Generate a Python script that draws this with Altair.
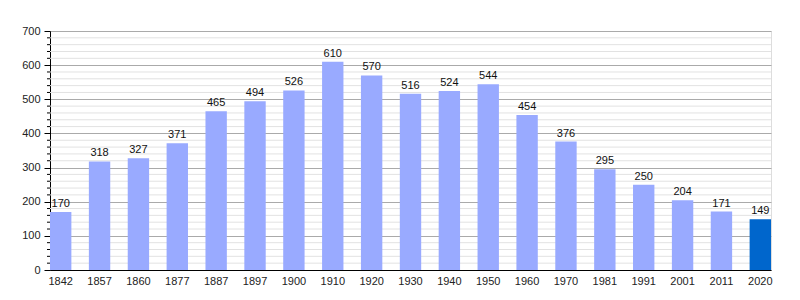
import altair as alt
import pandas as pd

years = ["1842", "1857", "1860", "1877", "1887", "1897", "1900", "1910", "1920", "1930",
         "1940", "1950", "1960", "1970", "1981", "1991", "2001", "2011", "2020"]
population = [170, 318, 327, 371, 465, 494, 526, 610, 570, 516,
              524, 544, 454, 376, 295, 250, 204, 171, 149]
highlight_year = "2020"
major_ticks = [0, 100, 200, 300, 400, 500, 600, 700]
minor_ticks = [v for v in range(20, 700, 20) if v % 100 != 0]

df = pd.DataFrame({"year": years, "pop": population})
minor_df = pd.DataFrame({"v": minor_ticks})

yscale = alt.Scale(domain=[0, 700], nice=False)
yaxis = alt.Axis(values=major_ticks, grid=True, gridColor="#aaaaaa",
                 tickSize=6, tickColor="#000", domainColor="#000",
                 labelFontSize=11, labelColor="#222",
                 labelPadding=4, labelFont="Liberation Sans")

x = alt.X("year:O", sort=years, title=None,
          scale=alt.Scale(paddingInner=0.45, paddingOuter=0),
          axis=alt.Axis(labelAngle=0, ticks=False, domainColor="#000", labelFontSize=11,
                        labelColor="#222", labelPadding=5, labelFont="Liberation Sans"))

minor_grid = alt.Chart(minor_df).mark_rule(color="#e2e2e2", strokeWidth=1).encode(
    y=alt.Y("v:Q", scale=yscale, axis=yaxis, title=None), x=alt.value(0), x2=alt.value(721)
)
minor_tick = alt.Chart(minor_df).mark_rule(color="#000", strokeWidth=1).encode(
    y=alt.Y("v:Q", scale=yscale, axis=yaxis, title=None), x=alt.value(-3), x2=alt.value(0)
)

bars = alt.Chart(df).mark_bar().encode(
    x=x, y=alt.Y("pop:Q", scale=yscale, axis=yaxis, title=None),
    color=alt.condition(alt.datum.year == highlight_year, alt.value("#0066cc"), alt.value("#99aaff")),
)
text = alt.Chart(df).mark_text(dy=-8, fontSize=11, color="#111", font="Liberation Sans").encode(
    x=alt.X("year:O", sort=years), y=alt.Y("pop:Q", scale=yscale, axis=yaxis, title=None), text="pop:Q"
)

chart = (minor_grid + bars + text + minor_tick).properties(
    width=721, height=239,
    autosize=alt.AutoSizeParams(type="none"),
    padding={"left": 50, "top": 31, "right": 29, "bottom": 30},
).configure_view(stroke=None).configure(background="white")

chart.save("out.html", embed_options={"renderer": "svg", "actions": False})
